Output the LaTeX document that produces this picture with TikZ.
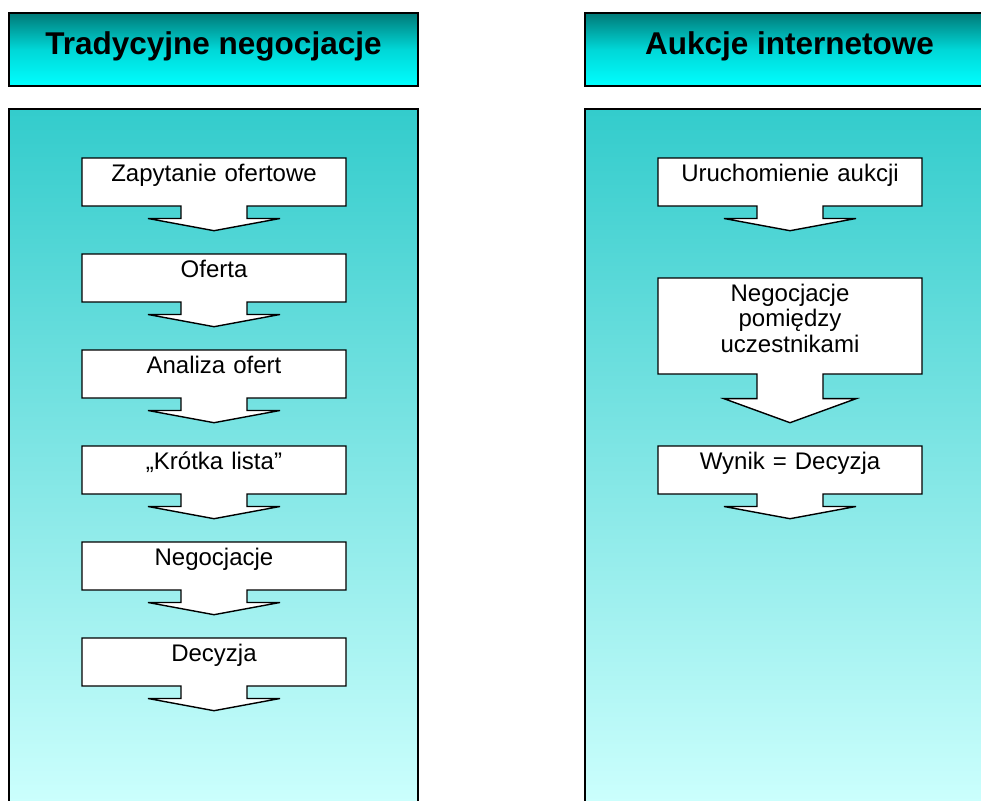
\documentclass[tikz,border=0pt]{standalone}
\usepackage{fontspec}
\setmainfont{Liberation Sans}
\usepackage{tikz}
\usetikzlibrary{shapes.arrows, positioning}

\begin{document}
\begin{tikzpicture}[x=1pt, y=-1pt, node distance=96pt,
    naglowek/.style={draw, line width=2pt, minimum width=409pt, minimum height=73pt, inner sep=0pt,
      top color={rgb,255:red,0;green,122;blue,120}, bottom color=cyan, middle color={rgb,255:red,0;green,215;blue,215},
      font=\fontsize{31.5}{36}\selectfont\bfseries, text height=22pt, text depth=13pt},
    panel/.style={draw, line width=1.6pt,
      top color={rgb,255:red,51;green,204;blue,204}, bottom color={rgb,255:red,204;green,255;blue,253}},
    krok/.style={arrow box, draw, fill=white, line width=1.4pt, inner sep=0pt,
      minimum width=264pt, text width=250pt, align=center,
      font=\fontsize{24}{25.5}\selectfont, text height=23pt, text depth=25pt,
      arrow box north arrow=0pt, arrow box east arrow=0pt, arrow box west arrow=0pt,
      arrow box south arrow=24pt, arrow box shaft width=66pt, arrow box head extend=33pt,
      arrow box tip angle=159},
    duzy/.style={text depth=73pt, arrow box south arrow=48pt, arrow box tip angle=140}]
      \useasboundingbox (0,0) rectangle (981,800);
      \clip (0,0) rectangle (981,800);

      % Panels
      \draw[panel] (9,109) rectangle (418,805);
      \draw[panel] (585,109) rectangle (994,805);

      % Headers
      \node[naglowek] (tradycyjne) at (213.5,49.5) {Tradycyjne negocjacje};
      \node[naglowek] (aukcje) at (789.5,49.5) {Aukcje internetowe};

      % Left column - traditional negotiations
      \node[krok] (zapytanie) at (214,182) {Zapytanie ofertowe};
      \node[krok] (oferta) [below of=zapytanie] {Oferta};
      \node[krok] (analiza) [below of=oferta] {Analiza ofert};
      \node[krok] (lista) [below of=analiza] {„Krótka lista”};
      \node[krok] (negocjacje) [below of=lista] {Negocjacje};
      \node[krok] (decyzja) [below of=negocjacje] {Decyzja};

      % Right column - online auctions
      \node[krok] (uruchomienie) at (790,182) {Uruchomienie aukcji};
      \node[krok, duzy, node distance=144pt, below of=uruchomienie] (pomiedzy) {Negocjacje\\ pomiędzy\\ uczestnikami};
      \node[krok, node distance=144pt, below of=pomiedzy] (wynik) {Wynik = Decyzja};
\end{tikzpicture}
\end{document}
